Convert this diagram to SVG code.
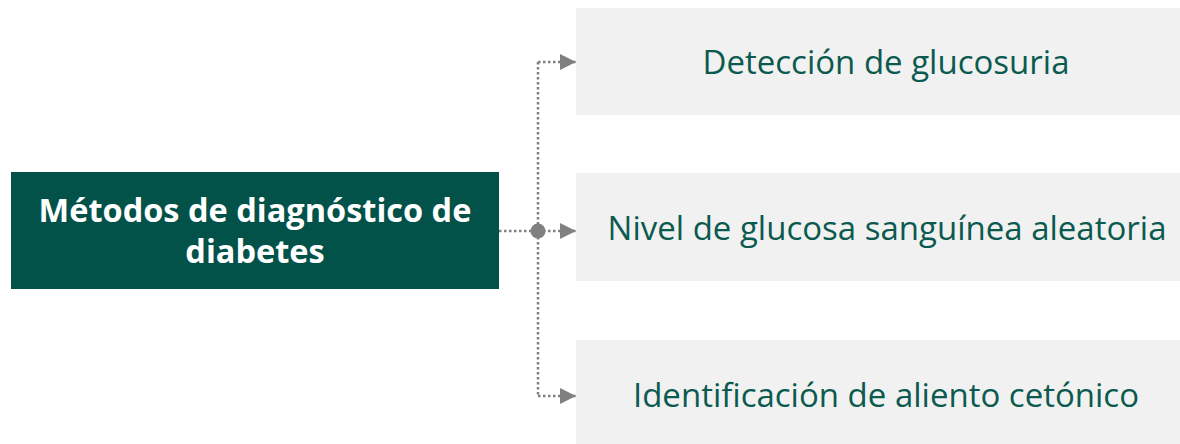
<svg xmlns="http://www.w3.org/2000/svg" width="1180" height="444" viewBox="0 0 1180 444">
<defs>
<style>
.leaf{fill:#F1F1F1}
.lt{font-family:"Open Sans","Noto Sans",sans-serif;font-size:33px;fill:#0B5A4F;text-anchor:middle}
.mt{font-family:"Open Sans","Noto Sans",sans-serif;font-size:32.5px;font-weight:bold;fill:#FFFFFF;text-anchor:middle}
.conn{fill:none;stroke:#808080;stroke-width:2.5;stroke-dasharray:2.5 2.5}
</style>
<marker id="arr" markerUnits="userSpaceOnUse" markerWidth="18" markerHeight="16" refX="16" refY="8" orient="auto">
<path d="M0,0 L16,8 L0,16 Z" fill="#808080"/>
</marker>
</defs>
<rect width="1180" height="444" fill="#FFFFFF"/>
<g id="main">
<rect x="11" y="172" width="488" height="117" fill="#02524A"/>
<text class="mt" x="255" y="222">Métodos de diagnóstico de</text>
<text class="mt" x="255" y="263">diabetes</text>
</g>
<g id="n1">
<rect class="leaf" x="576" y="8" width="604" height="107"/>
<text class="lt" x="886" y="74">Detección de glucosuria</text>
</g>
<g id="n2">
<rect class="leaf" x="576" y="173" width="604" height="108"/>
<text class="lt" x="887" y="240">Nivel de glucosa sanguínea aleatoria</text>
</g>
<g id="n3">
<rect class="leaf" x="576" y="340" width="604" height="104"/>
<text class="lt" x="886" y="407">Identificación de aliento cetónico</text>
</g>
<g id="connectors">
<path class="conn" d="M499,231 H538"/>
<path class="conn" d="M538,62 V396"/>
<path class="conn" d="M538,62 H576" marker-end="url(#arr)"/>
<path class="conn" d="M538,231 H576" marker-end="url(#arr)"/>
<path class="conn" d="M538,396 H576" marker-end="url(#arr)"/>
<circle cx="538" cy="231" r="7.5" fill="#808080"/>
</g>
</svg>
